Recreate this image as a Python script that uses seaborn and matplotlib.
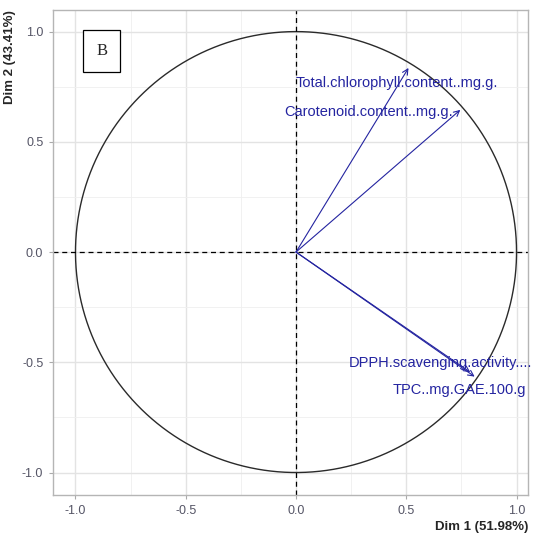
import numpy as np
import pandas as pd
import matplotlib.pyplot as plt
import seaborn as sns

variables = ['Total.chlorophyll.content..mg.g.', 'Carotenoid.content..mg.g.',
             'DPPH.scavenging.activity....', 'TPC..mg.GAE.100.g']
dim1 = [0.51, 0.745, 0.79, 0.81]
dim2 = [0.835, 0.645, -0.545, -0.565]
label_x = [0.455, 0.33, 0.653, 0.743]
label_y = [0.766, 0.635, -0.503, -0.626]

sns.set_theme(style='whitegrid')
plt.rcParams['font.family'] = ['Liberation Sans', 'DejaVu Sans']

fig = plt.figure(figsize=(5.5, 5.38), dpi=100)
ax = fig.add_axes([53/550, 1-495/538, 475/550, 485/538])

# correlation circle
theta = np.linspace(0, 2*np.pi, 400)
circle = pd.DataFrame({'x': np.cos(theta), 'y': np.sin(theta)})
sns.lineplot(data=circle, x='x', y='y', sort=False, estimator=None,
             color='#2a2a2a', lw=1.0, ax=ax)

ax.axhline(0, color='black', ls='--', lw=0.9, dashes=(4, 3))
ax.axvline(0, color='black', ls='--', lw=0.9, dashes=(4, 3))

col = '#2424a0'
for name, x, y, lx, ly in zip(variables, dim1, dim2, label_x, label_y):
    ax.annotate('', xy=(x, y), xytext=(0, 0),
                arrowprops=dict(arrowstyle='->', color=col, lw=0.8,
                                shrinkA=0, shrinkB=0, mutation_scale=10))
    ax.text(lx, ly, name, color=col, fontsize=10.5, ha='center', va='center')

ax.text(-0.88, 0.914, 'B', family='Liberation Serif', fontsize=12, ha='center', va='center',
        bbox=dict(boxstyle='square,pad=0.78', fc='white', ec='black', lw=0.9))

ax.set_xlim(-1.102, 1.052)
ax.set_ylim(-1.102, 1.098)
ax.set_xticks([-1.0, -0.5, 0.0, 0.5, 1.0])
ax.set_yticks([-1.0, -0.5, 0.0, 0.5, 1.0])
ax.set_xticks([-0.75, -0.25, 0.25, 0.75], minor=True)
ax.set_yticks([-0.75, -0.25, 0.25, 0.75], minor=True)
ax.set_xticklabels(['-1.0', '-0.5', '0.0', '0.5', '1.0'])
ax.set_yticklabels(['-1.0', '-0.5', '0.0', '0.5', '1.0'])
ax.grid(which='major', color='#e3e3e3', lw=1.0)
ax.grid(which='minor', color='#efefef', lw=0.6)
ax.tick_params(which='major', length=3, width=0.8, color='#aaaaaa', labelsize=9,
               labelcolor='#555566', pad=4, bottom=True, left=True)
ax.tick_params(which='minor', length=0)
for s in ax.spines.values():
    s.set_color('#b5b5b5')
    s.set_linewidth(1.0)

ax.set_xlabel('Dim 1 (51.98%)', fontweight='bold', fontsize=9.5, loc='right', labelpad=3)
ax.set_ylabel('Dim 2 (43.41%)', fontweight='bold', fontsize=9.5, loc='top', labelpad=4)

fig.savefig('out.png', dpi=100)
